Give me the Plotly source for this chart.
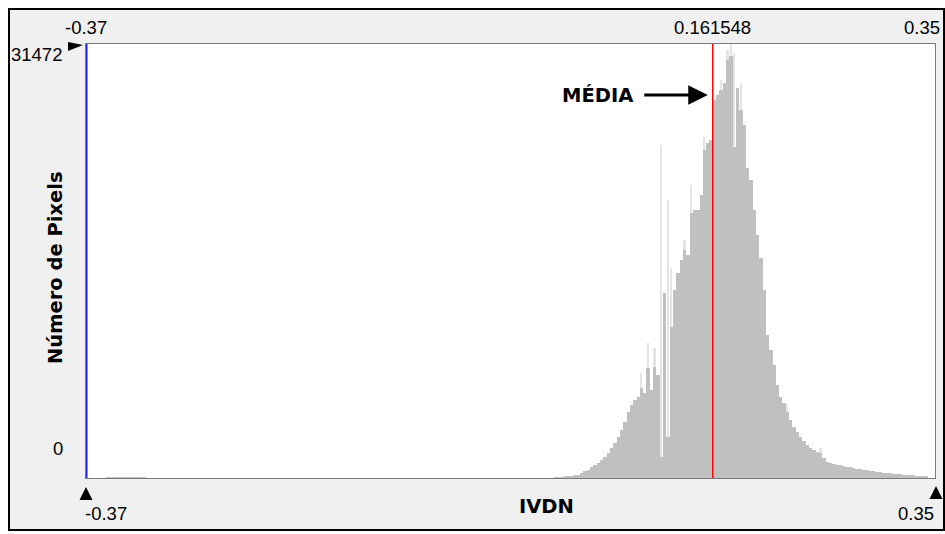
import plotly.graph_objects as go

# ---- histogram data (IVDN, 256 bins between X_MIN and X_MAX) ----
X_MIN = -0.37
X_MAX = 0.35
MEAN = 0.161548
Y_MAX = 31472
N_BINS = 256

# faint counts in the low tail
TAIL_START = 6
TAIL_COUNTS = [40, 25, 55, 30, 45, 60, 35, 50, 30, 40, 25, 30]

# main body of the histogram, starting at bin 141
MAIN_START = 141
MAIN_COUNTS = [
    36, 72, 72, 109, 145, 181, 218, 254, 363, 508,
    616, 798, 943, 1088, 1305, 1523, 1813, 2176, 2538, 2973,
    3481, 4061, 4786, 5294, 5657, 5874, 6527, 6164, 7977, 6382,
    8050, 7470, 1523, 13416, 2973, 10950, 13634, 14866, 15810, 16535,
    16172, 19218, 19435, 19435, 20523, 23787, 24294, 24512, 27413, 27776,
    28138, 28645, 30314, 30600, 24004, 28283, 26687, 25600, 22481, 21611,
    19435, 17622, 15954, 13634, 10370, 9282, 8195, 6744, 5874, 5439,
    4786, 4206, 3699, 3336, 2973, 2683, 2393, 2176, 2031, 1886,
    1813, 1450, 1160, 1088, 1015, 979, 943, 870, 834, 798,
    725, 689, 653, 616, 580, 544, 508, 471, 435, 399,
    363, 363, 326, 290, 290, 254, 254, 218, 218, 181,
    145, 145, 109,
]

# thin, lighter spikes (bin index -> count)
SPIKE_BINS = [167, 169, 171, 173, 175, 176, 180, 182, 186, 191, 193, 194, 195, 197, 211, 221]
SPIKE_COUNTS = [7615, 9790, 9427, 24150, 20160, 15228, 17260, 21248, 24729, 28863,
                31040, 31472, 30822, 28645, 5294, 2176]

# ---- figure geometry (pixels) ----
W, H = 945, 534
PLOT_L, PLOT_R, PLOT_T, PLOT_B = 86, 935, 44, 478
PLOT_W = PLOT_R - PLOT_L
PLOT_H = PLOT_B - PLOT_T


def px_x(px):
    return (px - PLOT_L) / PLOT_W


def px_y(py):
    return (PLOT_B - py) / PLOT_H


bin_w = (X_MAX - X_MIN) / N_BINS


def centre(i):
    return X_MIN + (i + 0.5) * bin_w


tail_x = [centre(TAIL_START + k) for k in range(len(TAIL_COUNTS))]
main_x = [centre(MAIN_START + k) for k in range(len(MAIN_COUNTS))]
spike_x = [centre(i) for i in SPIKE_BINS]

fig = go.Figure()
fig.add_trace(go.Bar(x=spike_x, y=SPIKE_COUNTS, width=bin_w * 0.55,
                     marker=dict(color="#e4e4e4", line=dict(width=0)),
                     hoverinfo="skip"))
fig.add_trace(go.Bar(x=tail_x + main_x, y=TAIL_COUNTS + MAIN_COUNTS, width=bin_w,
                     marker=dict(color="#c0c0c0", line=dict(width=0)),
                     hoverinfo="skip"))

NUM_FONT = dict(family="Liberation Sans, Arial, sans-serif", size=18.5, color="#000000")
BOLD_FONT = dict(family="DejaVu Sans, Verdana, sans-serif", size=19.5, color="#000000", weight="bold")

annotations = [
    dict(x=X_MIN, xref="x", y=px_y(28), yref="paper", text=f"{X_MIN:g}",
         xanchor="center", yanchor="middle", font=NUM_FONT, showarrow=False),
    dict(x=MEAN, xref="x", y=px_y(28), yref="paper", text=f"{MEAN:g}",
         xanchor="center", yanchor="middle", font=NUM_FONT, showarrow=False),
    dict(x=px_x(942), xref="paper", y=px_y(28), yref="paper", text=f"{X_MAX:g}",
         xanchor="right", yanchor="middle", font=NUM_FONT, showarrow=False),
    dict(x=px_x(64), xref="paper", y=px_y(54), yref="paper", text=str(Y_MAX),
         xanchor="right", yanchor="middle", font=NUM_FONT, showarrow=False),
    dict(x=px_x(58), xref="paper", y=px_y(448), yref="paper", text="0",
         xanchor="center", yanchor="middle", font=NUM_FONT, showarrow=False),
    dict(x=px_x(83), xref="paper", y=px_y(513), yref="paper", text=f"{X_MIN:g}",
         xanchor="left", yanchor="middle", font=NUM_FONT, showarrow=False),
    dict(x=px_x(936), xref="paper", y=px_y(513), yref="paper", text=f"{X_MAX:g}",
         xanchor="right", yanchor="middle", font=NUM_FONT, showarrow=False),
    dict(x=px_x(546), xref="paper", y=px_y(506), yref="paper", text="IVDN",
         xanchor="center", yanchor="middle", font=BOLD_FONT, showarrow=False),
    dict(x=px_x(55), xref="paper", y=px_y(268), yref="paper", text="Número de Pixels",
         textangle=-90, xanchor="center", yanchor="middle", font=BOLD_FONT, showarrow=False),
    dict(x=px_x(597), xref="paper", y=px_y(95), yref="paper", text="MÉDIA",
         xanchor="center", yanchor="middle", font=BOLD_FONT, showarrow=False),
    # arrow pointing at the mean line
    dict(x=MEAN, xref="x", y=px_y(95), yref="paper", text="", showarrow=True,
         ax=-70, ay=0, axref="pixel", ayref="pixel", arrowhead=2, arrowsize=1.3,
         arrowwidth=3, arrowcolor="#000000", standoff=5),
]


def tri_path(pts):
    s = "M " + " L ".join(f"{px_x(a):.5f},{px_y(b):.5f}" for a, b in pts) + " Z"
    return s


shapes = [
    # panel background with black frame
    dict(type="rect", xref="paper", yref="paper",
         x0=px_x(9), x1=px_x(944), y0=px_y(9), y1=px_y(530),
         fillcolor="#f0f0f0", line=dict(color="#000000", width=2), layer="below"),
    # white plotting area on top of the panel
    dict(type="rect", xref="paper", yref="paper", x0=0, x1=1, y0=0, y1=1,
         fillcolor="#ffffff", line=dict(width=0), layer="below"),
    # lower bound marker
    dict(type="line", xref="x", yref="paper", x0=X_MIN, x1=X_MIN, y0=0, y1=1,
         line=dict(color="#2020ff", width=3), layer="above"),
    # mean marker
    dict(type="line", xref="x", yref="paper", x0=MEAN, x1=MEAN, y0=0, y1=1,
         line=dict(color="#ff0000", width=1.5), layer="above"),
    # small slider arrows
    dict(type="path", xref="paper", yref="paper",
         path=tri_path([(68, 42), (83, 45), (68, 51)]),
         fillcolor="#000000", line=dict(width=0)),
    dict(type="path", xref="paper", yref="paper",
         path=tri_path([(86, 487), (92.5, 500), (79.5, 500)]),
         fillcolor="#000000", line=dict(width=0)),
    dict(type="path", xref="paper", yref="paper",
         path=tri_path([(936, 486), (942.5, 499), (929.5, 499)]),
         fillcolor="#000000", line=dict(width=0)),
]

axis_common = dict(showgrid=False, zeroline=False, showticklabels=False, ticks="",
                   showline=True, mirror=True, linecolor="#7a7a7a", linewidth=1)

fig.update_layout(
    width=W, height=H,
    margin=dict(l=PLOT_L, r=W - PLOT_R, t=PLOT_T, b=H - PLOT_B, pad=0),
    paper_bgcolor="#ffffff", plot_bgcolor="rgba(0,0,0,0)",
    barmode="overlay", bargap=0, showlegend=False,
    xaxis=dict(range=[X_MIN, X_MAX], **axis_common),
    yaxis=dict(range=[0, Y_MAX], **axis_common),
    annotations=annotations, shapes=shapes,
)

fig.write_html("out.html", config={"displayModeBar": False})
